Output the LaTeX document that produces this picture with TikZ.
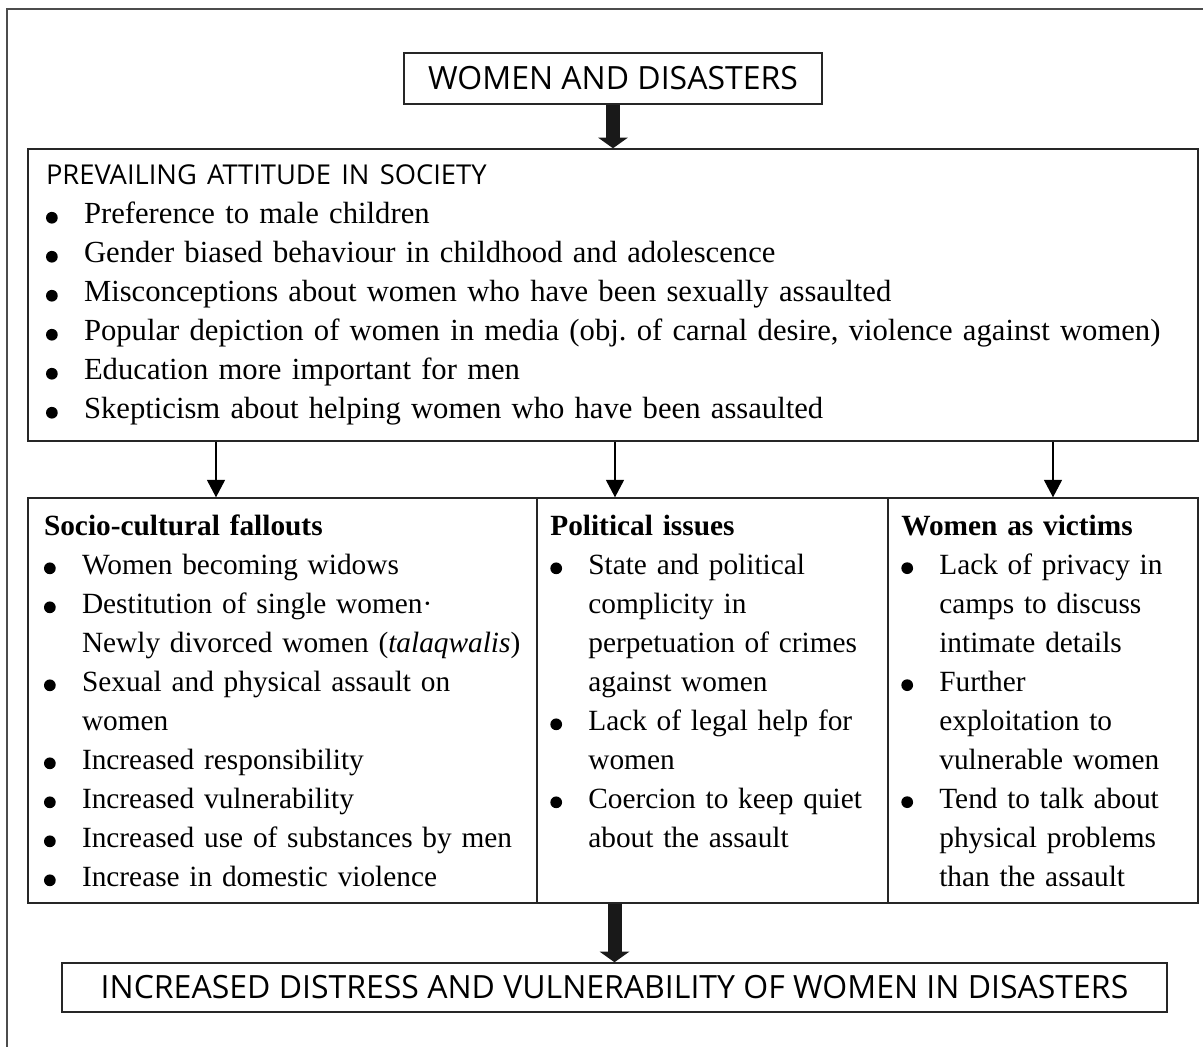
\documentclass[tikz,border=0pt]{standalone}
\usepackage{fontspec}
\setmainfont{Liberation Serif}
\newfontfamily\headfont{Open Sans}
\usetikzlibrary{arrows.meta}

\newcommand{\bul}{\makebox[28.5pt][l]{\tikz[baseline=0pt]\fill (6pt,4.4pt) circle (4.4pt);}}
\newcommand{\ind}{\hspace*{28.5pt}}

\begin{document}
\frenchspacing
\begin{tikzpicture}[x=0.75pt, y=-0.75pt,
    box/.style={draw=black!85, line width=1.1pt, inner sep=0pt},
    headbox/.style={box, font=\headfont\fontsize{24}{27}\selectfont},
    listbox/.style={box, align=left, inner xsep=12pt, font=\fontsize{22}{29.25}\selectfont},
    bigarrow/.style={line width=10.5pt, black!90, -{Triangle[width=22pt, length=8pt]}},
    thinarrow/.style={line width=0.8pt, -{Triangle[width=13.5pt, length=13pt]}}]
    \useasboundingbox (0,0) rectangle (1203,1047);

    % Frame
    \draw[black!70, line width=0.8pt] (1203,9) -- (7,9) -- (7,1047);

    % Title
    \node[headbox, minimum width=313.5pt, minimum height=38.25pt] (women) at (613,78.5) {WOMEN AND DISASTERS};

    % Attitude
    \node[listbox, font=\fontsize{23}{29.25}\selectfont, inner xsep=13.5pt, text width=850.5pt, minimum height=219pt] (attitude) at (613,295) {%
        {\headfont\fontsize{20.5}{29.25}\selectfont PREVAILING ATTITUDE IN SOCIETY}\\
        \bul Preference to male children\\
        \bul Gender biased behaviour in childhood and adolescence\\
        \bul Misconceptions about women who have been sexually assaulted\\
        \bul Popular depiction of women in media (obj. of carnal desire, violence against women)\\
        \bul Education more important for men\\
        \bul Skepticism about helping women who have been assaulted};

    % Columns
    \node[listbox, text width=357.75pt, minimum width=381.75pt, minimum height=303.75pt] (socio) at (282.5,700.5) {%
        \textbf{Socio-cultural fallouts}\\
        \bul Women becoming widows\\
        \bul Destitution of single women·\\
        \ind Newly divorced women (\textit{talaqwalis})\\
        \bul Sexual and physical assault on\\
        \ind women\\
        \bul Increased responsibility\\
        \bul Increased vulnerability\\
        \bul Increased use of substances by men\\
        \bul Increase in domestic violence};
    \node[listbox, text width=243.25pt, inner xsep=10pt, minimum width=263.25pt, minimum height=303.75pt] (political) at (712.5,700.5) {%
        \textbf{Political issues}\\
        \bul State and political\\
        \ind complicity in\\
        \ind perpetuation of crimes\\
        \ind against women\\
        \bul Lack of legal help for\\
        \ind women\\
        \bul Coercion to keep quiet\\
        \ind about the assault\\
        \mbox{}};
    \node[listbox, text width=212.5pt, inner xsep=10pt, minimum width=232.5pt, minimum height=303.75pt] (victims) at (1043,700.5) {%
        \textbf{Women as victims}\\
        \bul Lack of privacy in\\
        \ind camps to discuss\\
        \ind intimate details\\
        \bul Further\\
        \ind exploitation to\\
        \ind vulnerable women\\
        \bul Tend to talk about\\
        \ind physical problems\\
        \ind than the assault};

    % Result
    \node[headbox, minimum width=828.75pt, minimum height=36.75pt] (distress) at (614.5,987.5) {INCREASED DISTRESS AND VULNERABILITY OF WOMEN IN DISASTERS};

    % Arrows
    \coordinate (s1) at (216,0);
    \coordinate (p1) at (615,0);
    \coordinate (v1) at (1053,0);
    \draw[bigarrow] (women) -- (attitude);
    \draw[thinarrow] (attitude.south -| s1) -- (socio.north -| s1);
    \draw[thinarrow] (attitude.south -| p1) -- (political.north -| p1);
    \draw[thinarrow] (attitude.south -| v1) -- (victims.north -| v1);
    \draw[bigarrow] (political.south -| distress.north) -- (distress.north);
\end{tikzpicture}
\end{document}
